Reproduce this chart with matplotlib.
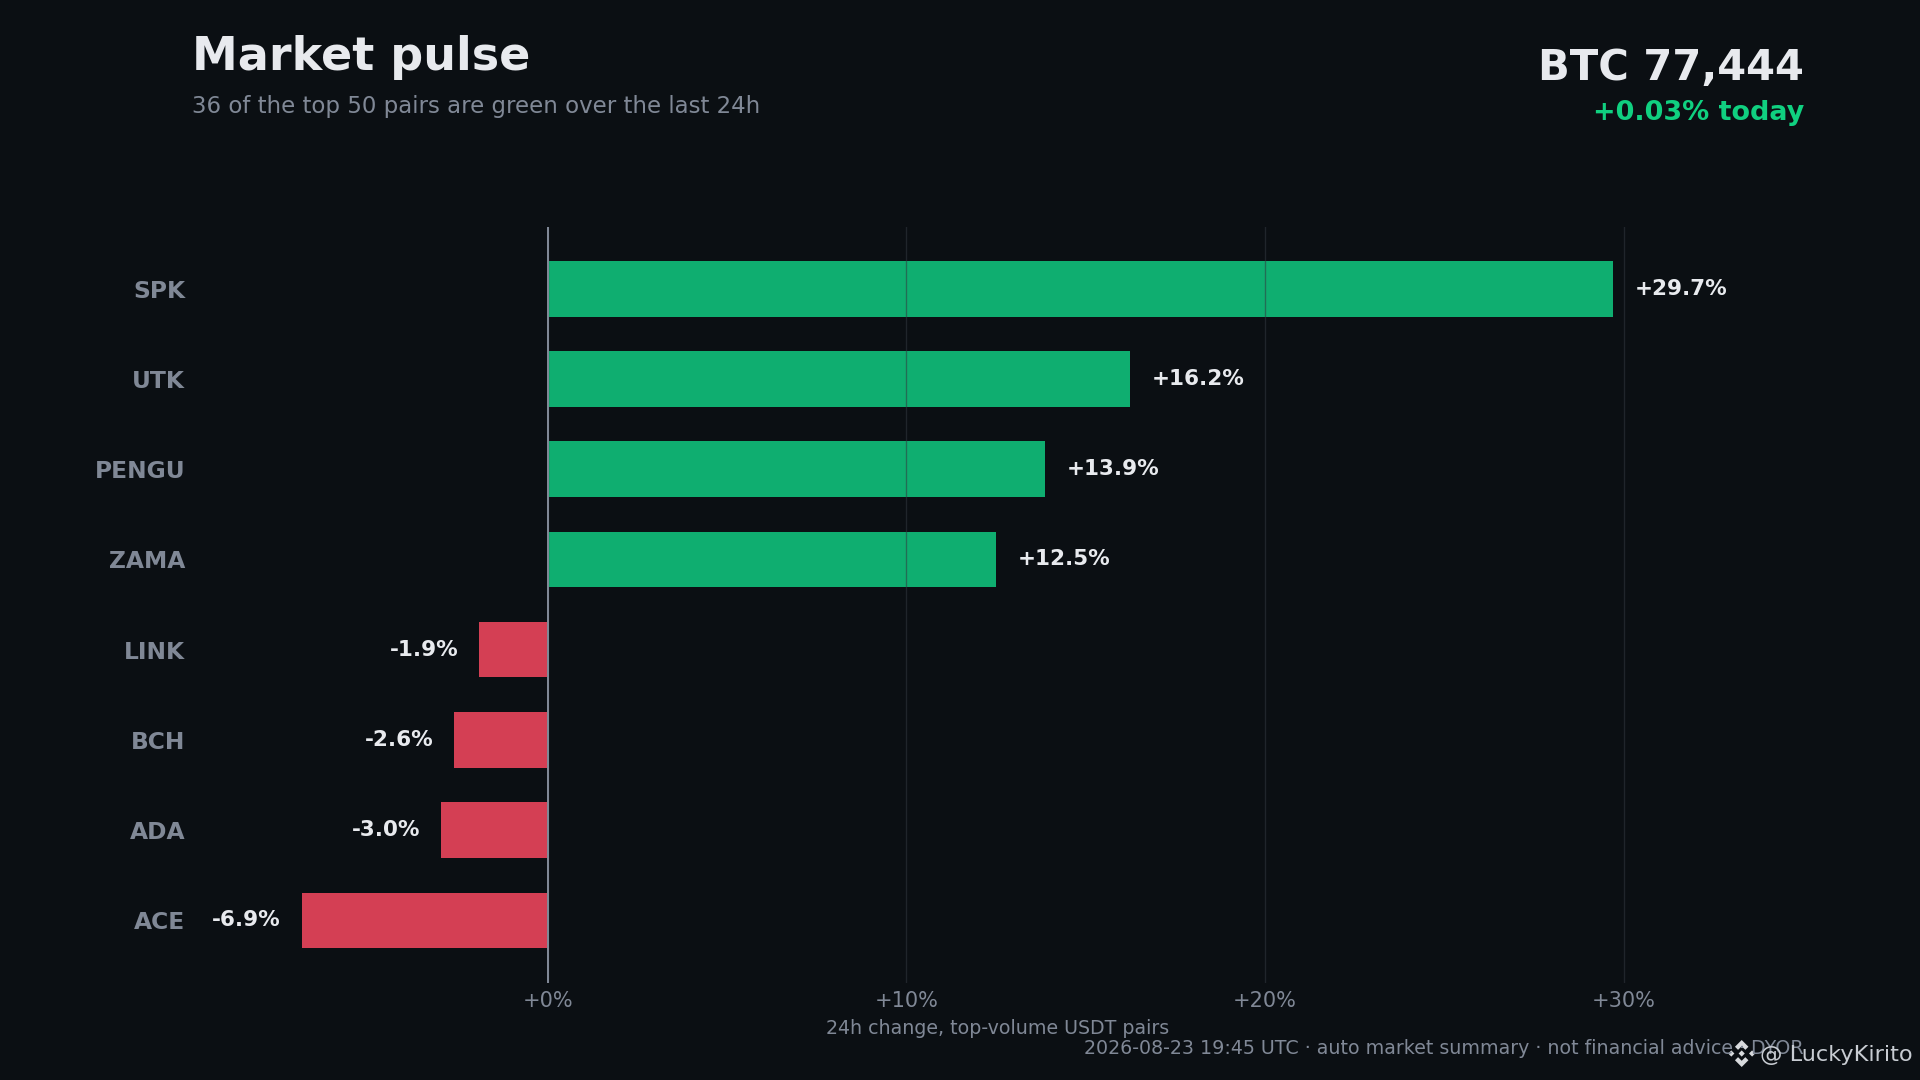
import matplotlib
matplotlib.use("Agg")
import matplotlib.pyplot as plt
from matplotlib.patches import Polygon

# data
symbols = ["SPK", "UTK", "PENGU", "ZAMA", "LINK", "BCH", "ADA", "ACE"]
changes = [29.7, 16.23, 13.87, 12.5, -1.92, -2.61, -2.98, -6.86]
x_ticks = [0, 10, 20, 30]
x_tick_labels = ["+0%", "+10%", "+20%", "+30%"]

BG = "#0b0f13"
GREEN = "#0fae70"
RED = "#d43f54"
MUTED = "#808896"
LIGHT = "#e8eaee"

W, H = 1920, 1080

fig = plt.figure(figsize=(16, 9), dpi=120, facecolor=BG)
ax = fig.add_axes([192 / W, 1 - 983 / H, (1804 - 192) / W, (983 - 227) / H], facecolor=BG)

colors = [GREEN if c >= 0 else RED for c in changes]
y_pos = list(range(len(symbols)))
ax.barh(y_pos, changes, height=0.615, color=colors, zorder=2)

ax.set_xlim(-9.92, 35.03)
ax.set_ylim(len(symbols) - 0.305, -0.685)

# gridlines sit on top of the bars in the original
ax.set_axisbelow(False)
ax.xaxis.grid(True, color="#32383f", alpha=0.55, linewidth=0.8, zorder=3)
ax.axvline(0, color=MUTED, linewidth=1.2, zorder=4)

ax.set_yticks(y_pos)
ax.set_yticklabels(symbols, fontsize=14, fontweight="bold", color=MUTED)
ax.set_xticks(x_ticks)
ax.set_xticklabels(x_tick_labels, fontsize=12.5, color=MUTED)
ax.tick_params(axis="y", length=0, pad=4)
ax.tick_params(axis="x", length=0, pad=5)
ax.set_xlabel("24h change, top-volume USDT pairs", fontsize=11.4, color=MUTED, labelpad=4.5)
for spine in ax.spines.values():
    spine.set_visible(False)

# value labels
for y, c in zip(y_pos, changes):
    offset = 0.6 if c >= 0 else -0.58
    ax.text(c + offset, y, f"{c:+.1f}%", va="center", ha="left" if c >= 0 else "right",
            fontsize=12.9, fontweight="bold", color=LIGHT, zorder=5)

# header
fig.text(192 / W, 1 - 57 / H, "Market pulse", fontsize=27.6, fontweight="bold", color=LIGHT, va="center")
fig.text(192 / W, 1 - 106 / H, "36 of the top 50 pairs are green over the last 24h", fontsize=13.7, color=MUTED, va="center")
fig.text(1804 / W, 1 - 68 / H, "BTC 77,444", fontsize=25, fontweight="bold", color=LIGHT, va="center", ha="right")
fig.text(1804 / W, 1 - 113.5 / H, "+0.03% today", fontsize=16.2, fontweight="bold", color="#10d080", va="center", ha="right")

# footer and watermark
fig.text(1804 / W, 1 - 1048 / H, "2026-08-23 19:45 UTC · auto market summary · not financial advice · DYOR",
         fontsize=11.4, color=MUTED, va="center", ha="right")
fig.text(1760 / W, 1 - 1055 / H, "@ LuckyKirito", fontsize=13.4, color="#c8ccd2", va="center", ha="left")

# Binance style logo next to the handle, in pixel coordinates
cx, cy, r = 1741.7, 1053.5, 13.5
chevron = [(0, -1), (0.5, -0.5), (0.27, -0.27), (0, -0.54), (-0.27, -0.27), (-0.5, -0.5)]
diamond = [(0, -0.23), (0.23, 0), (0, 0.23), (-0.23, 0)]
logo_shapes = [
    chevron,
    [(x, -y) for x, y in chevron],
    diamond,
    [(x - 0.77, y) for x, y in diamond],
    [(x + 0.77, y) for x, y in diamond],
]
for shape in logo_shapes:
    pts = [((cx + r * x) / W, 1 - (cy + r * y) / H) for x, y in shape]
    fig.add_artist(Polygon(pts, closed=True, transform=fig.transFigure, facecolor="#d8dadd", edgecolor="none"))

fig.savefig("out.png", dpi=120, facecolor=BG)
